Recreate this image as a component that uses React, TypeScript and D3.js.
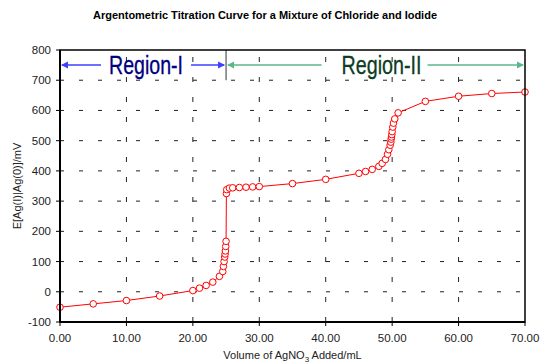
import React from 'react';
import * as d3 from 'd3';

// Volume of AgNO3 added (mL) and measured potential (mV)
const volumes = [
  0, 5, 10, 15, 20, 21, 22, 23, 24, 24.5, 24.6, 24.7, 24.8, 24.85, 24.9, 24.95, 25.0,
  25.05, 25.1, 25.5, 26, 27, 28, 29, 30, 35, 40,
  45, 46, 47, 48, 48.5, 49, 49.3, 49.5, 49.7, 49.8, 49.85, 49.9, 49.95, 50.0,
  50.1, 50.2, 50.4, 50.9, 55, 60, 65, 70,
];
const potentials = [
  -51, -40, -29, -14, 4, 12, 21, 32, 51, 67, 84, 100, 115, 125, 135, 150, 167,
  325, 338, 343, 344, 345, 346, 347, 348, 358, 372,
  392, 398, 405, 415, 425, 438, 455, 470, 485, 495, 505, 512, 520, 530,
  545, 558, 572, 592, 630, 647, 656, 661,
];

const xTicks = [0, 10, 20, 30, 40, 50, 60, 70];
const yTicks = [-100, 0, 100, 200, 300, 400, 500, 600, 700, 800];
const regionSplit = 25;
const regionArrowLevel = 750;

const W = 540;
const H = 364;
const margin = { top: 50, right: 15, bottom: 42, left: 60 };

export default function App() {
  const x = d3.scaleLinear().domain([0, 70]).range([margin.left, W - margin.right]);
  const y = d3.scaleLinear().domain([-100, 800]).range([H - margin.bottom, margin.top]);
  const pts: [number, number][] = volumes.map((v, i) => [v, potentials[i]]);
  const line = d3.line<[number, number]>().x(d => x(d[0])).y(d => y(d[1]));

  const x0 = x.range()[0];
  const x1 = x.range()[1];
  const y0 = y.range()[0];
  const y1 = y.range()[1];
  const ay = y(regionArrowLevel);
  const xs = x(regionSplit);

  const blue = '#3f3fff';
  const green = '#5cb88a';
  const r1c = (x0 + xs) / 2 + 3;
  const r2c = (xs + x1) / 2 + 6;
  const r1w = 37;
  const r2w = 40;

  const arrowHead = (tipX: number, dir: number, color: string) => (
    <path
      d={`M${tipX},${ay} L${tipX - dir * 7},${ay - 3.5} L${tipX - dir * 7},${ay + 3.5} Z`}
      fill={color}
    />
  );

  return (
    <svg
      width={W}
      height={H}
      style={{ position: 'absolute', left: 0, top: 0, background: '#fff' }}
      fontFamily="Arial, 'Liberation Sans', sans-serif"
    >
      <text x={265} y={19} textAnchor="middle" fontSize={10.5} fontWeight="bold" fill="#000" textLength={344} lengthAdjust="spacingAndGlyphs">
        Argentometric Titration Curve for a Mixture of Chloride and Iodide
      </text>

      {/* grid */}
      {yTicks.slice(1, -1).map(t => (
        <line key={'gy' + t} x1={x0} x2={x1} y1={y(t)} y2={y(t)} stroke="#222" strokeWidth={1} strokeDasharray="4,15" />
      ))}
      {xTicks.slice(1, -1).map(t => (
        <line key={'gx' + t} x1={x(t)} x2={x(t)} y1={y0} y2={y1} stroke="#222" strokeWidth={1} strokeDasharray="5,15" />
      ))}

      {/* region separator */}
      <line x1={xs} x2={xs} y1={y1} y2={y(700)} stroke="#777" strokeWidth={1.5} />

      {/* region arrows */}
      <line x1={x0 + 2} x2={r1c - r1w - 8} y1={ay} y2={ay} stroke={blue} strokeWidth={1.5} />
      <line x1={r1c + r1w + 8} x2={xs - 2} y1={ay} y2={ay} stroke={blue} strokeWidth={1.5} />
      {arrowHead(x0 + 1, -1, blue)}
      {arrowHead(xs - 1, 1, blue)}
      <text x={r1c} y={ay + 9} textAnchor="middle" fontSize={25} fill="#000080" stroke="#000080" strokeWidth={0.3} textLength={r1w * 2} lengthAdjust="spacingAndGlyphs">
        Region-I
      </text>

      <line x1={xs + 2} x2={r2c - r2w - 20} y1={ay} y2={ay} stroke={green} strokeWidth={1.5} />
      <line x1={r2c + r2w + 6} x2={x1 - 2} y1={ay} y2={ay} stroke={green} strokeWidth={1.5} />
      {arrowHead(xs + 1, -1, green)}
      {arrowHead(x1 - 1, 1, green)}
      <text x={r2c} y={ay + 9} textAnchor="middle" fontSize={25} fill="#0d3d25" stroke="#0d3d25" strokeWidth={0.3} textLength={r2w * 2} lengthAdjust="spacingAndGlyphs">
        Region-II
      </text>

      {/* data */}
      <path d={line(pts) || ''} fill="none" stroke="#ff0000" strokeWidth={1} />
      {pts.map((d, i) => (
        <circle key={i} cx={x(d[0])} cy={y(d[1])} r={3.3} fill="#fff" stroke="#ff0000" strokeWidth={1} />
      ))}

      {/* frame */}
      <rect x={x0} y={y1} width={x1 - x0} height={y0 - y1} fill="none" stroke="#000" strokeWidth={1.5} />
      <line x1={x0} x2={x0} y1={y1} y2={y0} stroke="#000" strokeWidth={2} />
      <line x1={x0} x2={x1} y1={y0} y2={y0} stroke="#000" strokeWidth={2} />

      {/* y axis */}
      {yTicks.map(t => (
        <g key={'yt' + t}>
          <line x1={x0 - 4} x2={x0} y1={y(t)} y2={y(t)} stroke="#000" strokeWidth={1} />
          <text x={x0 - 9} y={y(t) + 4} textAnchor="end" fontSize={11.5} fill="#222">
            {t}
          </text>
        </g>
      ))}
      {/* x axis */}
      {xTicks.map(t => (
        <g key={'xt' + t}>
          <line x1={x(t)} x2={x(t)} y1={y0} y2={y0 + 4} stroke="#000" strokeWidth={1} />
          <text x={x(t)} y={y0 + 20} textAnchor="middle" fontSize={11.5} fill="#222">
            {t.toFixed(2)}
          </text>
        </g>
      ))}

      <text x={(x0 + x1) / 2} y={H - 5} textAnchor="middle" fontSize={11} fill="#222">
        Volume of AgNO<tspan fontSize={8} dy={3}>3</tspan>
        <tspan dy={-3}> Added/mL</tspan>
      </text>
      <text
        transform={`translate(${21},${(y0 + y1) / 2}) rotate(-90)`}
        textAnchor="middle"
        fontSize={11}
        fill="#222"
      >
        E[Ag(I)|Ag(0)]/mV
      </text>
    </svg>
  );
}
